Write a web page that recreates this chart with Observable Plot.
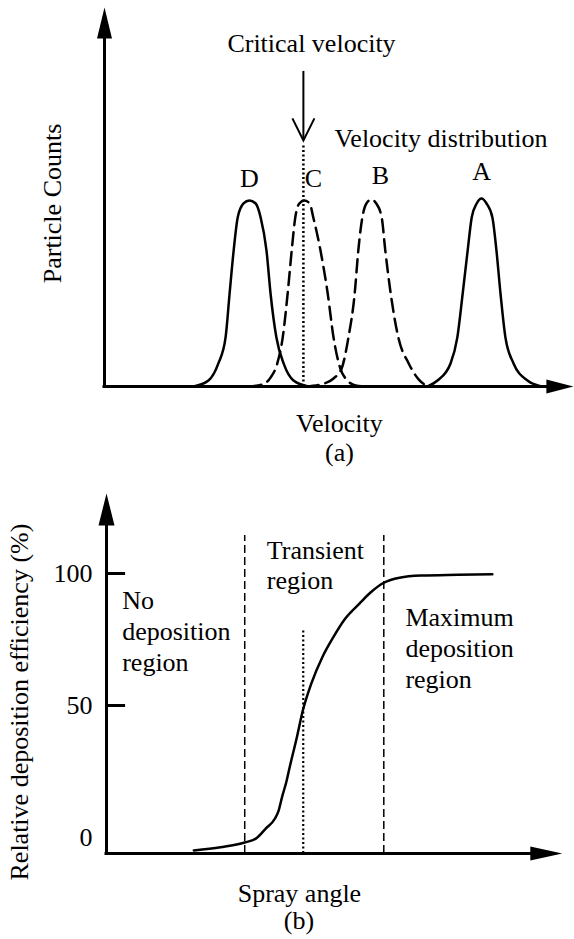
<!DOCTYPE html>
<html>
<head>
<meta charset="utf-8">
<script src="https://cdn.jsdelivr.net/npm/d3@7"></script>
<script src="https://cdn.jsdelivr.net/npm/@observablehq/plot@0.6"></script>
<style>
  html, body { margin: 0; padding: 0; background: #ffffff; }
  #chart svg { display: block; }
  #chart svg, #chart svg text, #chart svg tspan { font-family: "Liberation Serif", serif !important; }
</style>
</head>
<body>
<div id="chart"></div>
<script>
// ---------------- Panel (a): particle counts vs velocity ----------------
const velD = [19.8, 23.1, 25.3, 26.9, 27.8, 28.7, 29.6, 30.9, 32.2, 33.6, 34.7, 36.0, 36.9, 38.2, 39.8, 42.0, 45.3];
const countD = [0, 3.2, 12.4, 26.3, 50.0, 73.1, 90.9, 98.4, 100, 98.4, 90.9, 73.1, 50.0, 26.3, 12.4, 3.2, 0];

const velC = [32.0, 35.1, 36.9, 38.4, 39.6, 40.7, 41.6, 42.4, 43.3, 44.4, 45.6, 46.4, 48.0, 49.6, 50.9, 52.4, 54.0, 55.8, 57.8];
const countC = [0, 1.1, 4.8, 12.4, 26.3, 50.0, 73.1, 90.9, 98.4, 100, 98.4, 90.9, 73.1, 50.0, 26.3, 9.7, 3.2, 0.5, 0];

const velB = [44.7, 48.0, 50.9, 52.7, 54.2, 55.6, 56.4, 57.3, 58.2, 59.3, 60.4, 61.6, 62.4, 63.6, 65.3, 67.6, 69.8, 72.0];
const countB = [0, 1.1, 4.3, 9.7, 26.3, 50.0, 73.1, 90.9, 98.4, 100.5, 98.4, 90.9, 73.1, 50.0, 26.3, 12.4, 3.8, 0];

const velA = [71.8, 74.0, 76.9, 78.4, 79.6, 80.7, 81.6, 82.7, 83.8, 84.9, 86.2, 87.1, 88.0, 89.1, 90.9, 94.0, 97.1];
const countA = [0, 3.2, 12.4, 26.3, 50.0, 73.1, 90.9, 98.4, 101.1, 98.4, 90.9, 73.1, 50.0, 26.3, 12.4, 3.2, 0];

const peakNames = ["D", "C", "B", "A"];
const peakLabelVel = [32.2, 46.4, 61.3, 83.8];
const peakLabelCount = [107, 107, 109.1, 110.9];
const criticalVelocity = 44.2;

// ---------------- Panel (b): deposition efficiency vs spray angle ----------------
const sprayAngle = [20.6, 26.9, 32.6, 35.5, 37.5, 39.7, 40.6, 41.4, 42.5, 43.2, 44.9, 46.3, 48.3, 50.9, 53.5, 56.1, 59.6, 62.2, 65.4, 69.1, 74.2, 82.9, 91.0];
const efficiency = [-4.9, -3.7, -1.9, -0.1, 3.3, 7.1, 10.2, 15.3, 21.6, 26.6, 38.0, 48.1, 58.3, 68.3, 75.9, 82.5, 88.5, 92.7, 96.5, 98.4, 99.2, 99.5, 99.7];
const effTicks = [0, 50, 100];
const effTickMarks = [50, 100];
const regionBounds = [32.6, 65.4];
const criticalAngle = 46.4;

// ---------------- helpers ----------------
const serif = "Liberation Serif";
function arrowRight(len, wid) {
  return {draw(ctx) { ctx.moveTo(0, 0); ctx.lineTo(-len, -wid / 2); ctx.lineTo(-len, wid / 2); ctx.closePath(); }};
}
function arrowUp(len, wid) {
  return {draw(ctx) { ctx.moveTo(0, 0); ctx.lineTo(-wid / 2, len); ctx.lineTo(wid / 2, len); ctx.closePath(); }};
}
function openVDown(halfW, h) {
  return {draw(ctx) { ctx.moveTo(-halfW, -h); ctx.lineTo(0, 0); ctx.lineTo(halfW, -h); }};
}
const toRows = (xs, ys) => xs.map((x, i) => ({x, y: ys[i]}));
const txt = {fontSize: 26, fontFamily: serif, fill: "black"};

// ---------------- Panel (a) ----------------
const aVelAxisEnd = 98.4, aVelArrowTip = 104.2;
const aCountAxisEnd = 187.1, aCountArrowTip = 203.8;
const critArrowTip = 132.3, critArrowTail = 169.4, critDotTop = 129.6;

const plotA = Plot.plot({
  width: 574, height: 475,
  marginLeft: 104, marginRight: 20, marginTop: 200, marginBottom: 89,
  x: {domain: [0, 100], axis: null},
  y: {domain: [0, 100], axis: null},
  style: {fontFamily: serif, background: "white", color: "black"},
  marks: [
    Plot.ruleY([0], {x1: 0, x2: aVelAxisEnd, strokeWidth: 3, strokeLinecap: "square"}),
    Plot.ruleX([0], {y1: 0, y2: aCountAxisEnd, strokeWidth: 3, strokeLinecap: "square"}),
    Plot.dot([0], {x: aVelArrowTip, y: 0, symbol: arrowRight(27, 14), fill: "black", stroke: "none"}),
    Plot.dot([0], {x: 0, y: aCountArrowTip, symbol: arrowUp(31, 15), fill: "black", stroke: "none"}),
    Plot.line(toRows(velD, countD), {x: "x", y: "y", curve: "monotone-x", strokeWidth: 2.5}),
    Plot.line(toRows(velA, countA), {x: "x", y: "y", curve: "monotone-x", strokeWidth: 2.5}),
    Plot.line(toRows(velC, countC), {x: "x", y: "y", curve: "monotone-x", strokeWidth: 2.5, strokeDasharray: "13,7"}),
    Plot.line(toRows(velB, countB), {x: "x", y: "y", curve: "monotone-x", strokeWidth: 2.5, strokeDasharray: "13,7"}),
    Plot.ruleX([criticalVelocity], {y1: 0, y2: critDotTop, strokeWidth: 2.5, strokeDasharray: "2,2.5"}),
    Plot.ruleX([criticalVelocity], {y1: critArrowTip, y2: critArrowTail, strokeWidth: 2}),
    Plot.dot([0], {x: criticalVelocity, y: critArrowTip, symbol: openVDown(11, 22), fill: "none", stroke: "black", strokeWidth: 2}),
    Plot.text(peakNames, {x: (d, i) => peakLabelVel[i], y: (d, i) => peakLabelCount[i], text: d => d, lineAnchor: "bottom", ...txt}),
    Plot.text(["Critical velocity"], {x: 46.0, y: 179.6, text: d => d, lineAnchor: "bottom", ...txt}),
    Plot.text(["Velocity distribution"], {x: 51.1, y: 128.5, text: d => d, textAnchor: "start", lineAnchor: "bottom", ...txt}),
    Plot.text(["Particle Counts"], {x: -11.6, y: 98.4, text: d => d, rotate: -90, ...txt}),
    Plot.text(["Velocity"], {x: 52.2, y: -24.2, text: d => d, lineAnchor: "bottom", ...txt}),
    Plot.text(["(a)"], {x: 52.2, y: -39.8, text: d => d, lineAnchor: "bottom", ...txt})
  ]
});

// ---------------- Panel (b) ----------------
const bAxisY = -6.06;
const bAngleAxisEnd = 100, bAngleArrowTip = 107.5;
const bEffAxisEnd = 118.2, bEffArrowTip = 130.3;
const bTickLen = 4.5;

const plotB = Plot.plot({
  width: 574, height: 464,
  marginLeft: 106, marginRight: 44, marginTop: 98, marginBottom: 102,
  x: {domain: [0, 100], axis: null},
  y: {domain: [0, 100]},
  style: {fontFamily: serif, background: "white", color: "black"},
  marks: [
    Plot.axisY(effTicks, {tickSize: 0, tickPadding: 14, label: null, ...txt}),
    Plot.ruleY(effTickMarks, {x1: 0, x2: bTickLen, strokeWidth: 3}),
    Plot.ruleY([bAxisY], {x1: 0, x2: bAngleAxisEnd, strokeWidth: 3, strokeLinecap: "square"}),
    Plot.ruleX([0], {y1: bAxisY, y2: bEffAxisEnd, strokeWidth: 3, strokeLinecap: "square"}),
    Plot.dot([0], {x: bAngleArrowTip, y: bAxisY, symbol: arrowRight(32, 14), fill: "black", stroke: "none"}),
    Plot.dot([0], {x: 0, y: bEffArrowTip, symbol: arrowUp(32, 16), fill: "black", stroke: "none"}),
    Plot.ruleX(regionBounds, {y1: bAxisY, y2: 114.4, strokeWidth: 1.5, strokeDasharray: "8,4"}),
    Plot.ruleX([criticalAngle], {y1: bAxisY, y2: 79.2, strokeWidth: 2.2, strokeDasharray: "2,2.5"}),
    Plot.line(toRows(sprayAngle, efficiency), {x: "x", y: "y", curve: "monotone-x", strokeWidth: 2.5}),
    Plot.text(["Transient\nregion"], {x: 37.8, y: 94.3, text: d => d, textAnchor: "start", lineAnchor: "bottom", lineHeight: 1.154, ...txt}),
    Plot.text(["No\ndeposition\nregion"], {x: 3.7, y: 63.0, text: d => d, textAnchor: "start", lineAnchor: "bottom", lineHeight: 1.19, ...txt}),
    Plot.text(["Maximum\ndeposition\nregion"], {x: 70.5, y: 56.7, text: d => d, textAnchor: "start", lineAnchor: "bottom", lineHeight: 1.19, ...txt}),
    Plot.text(["Spray angle"], {x: 45.5, y: -24.5, text: d => d, lineAnchor: "bottom", ...txt}),
    Plot.text(["(b)"], {x: 45.4, y: -34.5, text: d => d, lineAnchor: "bottom", ...txt}),
    Plot.text(["Relative deposition efficiency (%)"], {x: -20.5, y: 51.3, text: d => d, rotate: -90, ...txt})
  ]
});

const chart = document.getElementById("chart");
chart.appendChild(plotA);
chart.appendChild(plotB);
</script>
</body>
</html>
